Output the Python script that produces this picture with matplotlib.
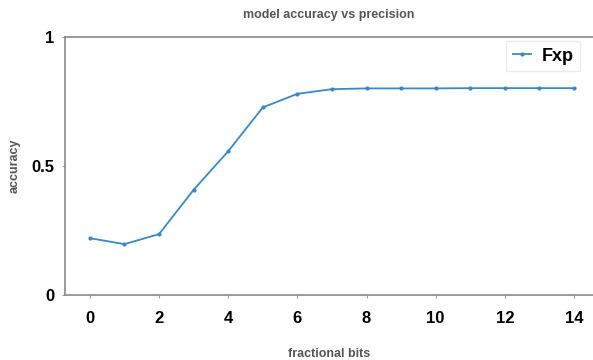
import matplotlib
matplotlib.use("Agg")
import matplotlib.pyplot as plt

bits = [0, 1, 2, 3, 4, 5, 6, 7, 8, 9, 10, 11, 12, 13, 14]
acc = [0.22, 0.197, 0.236, 0.408, 0.558, 0.728, 0.781, 0.799, 0.802,
       0.802, 0.802, 0.803, 0.803, 0.803, 0.803]

plt.rcParams['font.family'] = ['Liberation Sans', 'DejaVu Sans']

fig = plt.figure(figsize=(5.93, 3.6), dpi=100)
ax = fig.add_axes([0.1096, 0.181, 0.8904, 0.715])

ax.plot(bits, acc, color='#3a89c4', marker='.', markersize=4, linewidth=1.3, label='Fxp')

ax.set_xlim(-0.72, 14.55)
ax.set_ylim(0, 1)
ax.set_xticks([0, 2, 4, 6, 8, 10, 12, 14])
ax.set_yticks([0, 0.5, 1])
ax.set_yticklabels(['0', '0.5', '1'])

for s in ['left', 'top', 'bottom']:
    ax.spines[s].set_color('#8a8a8a')
    ax.spines[s].set_linewidth(1.2)
ax.spines['right'].set_visible(False)

ax.tick_params(axis='both', colors='#9a9a9a', labelcolor='black', labelsize=12, length=2.5)
ax.tick_params(axis='x', pad=9)
ax.tick_params(axis='y', pad=5)
for lbl in ax.get_xticklabels() + ax.get_yticklabels():
    lbl.set_fontweight('bold')

ax.set_title('model accuracy vs precision', fontsize=9, fontweight='bold', color='#555555', pad=14)
ax.set_xlabel('fractional bits', fontsize=9, fontweight='bold', color='#555555', labelpad=16)
ax.set_ylabel('accuracy', fontsize=9, fontweight='bold', color='#555555', labelpad=8)

leg = ax.legend(loc='upper right', bbox_to_anchor=(0.975, 0.985), borderaxespad=0,
                prop={'weight': 'bold', 'size': 13}, handlelength=1.0, handletextpad=0.6,
                frameon=True, fancybox=False, borderpad=0.35)
leg.get_frame().set_edgecolor('#e6e6e6')

fig.savefig('out.png', dpi=100)
